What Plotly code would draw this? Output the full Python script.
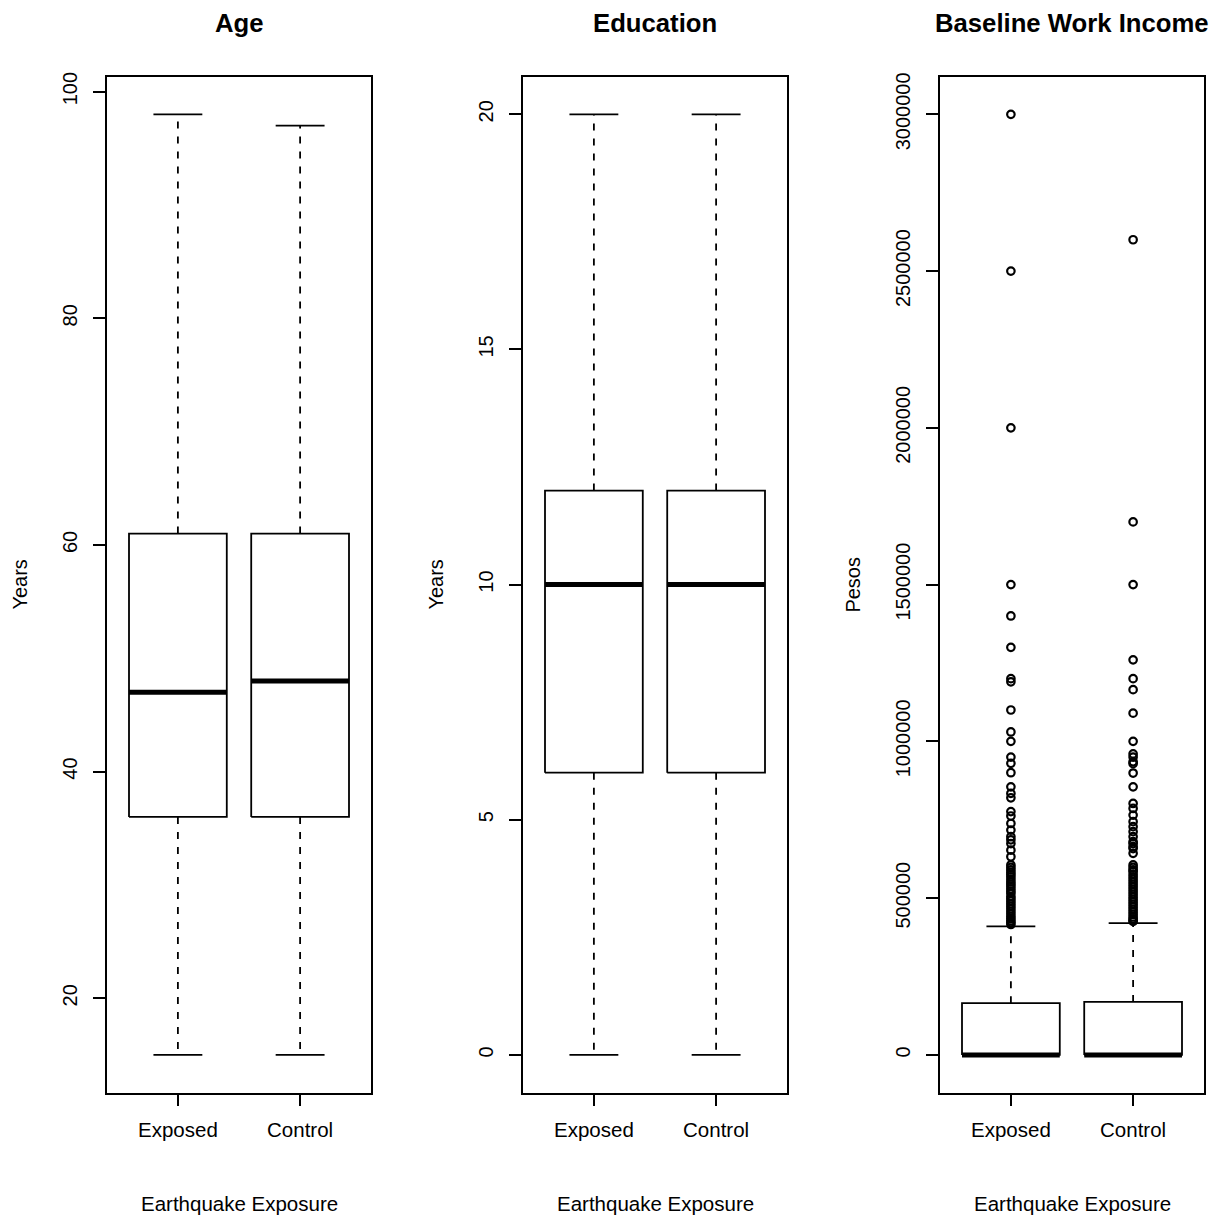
import plotly.graph_objects as go

W, H = 1217, 1220

groups = ["Exposed", "Control"]
group_pos = [1, 2]

# five-number summaries: [lower whisker, q1, median, q3, upper whisker]
age_stats = {"Exposed": [15, 36, 47, 61, 98], "Control": [15, 36, 48, 61, 97]}
edu_stats = {"Exposed": [0, 6, 10, 12, 20], "Control": [0, 6, 10, 12, 20]}
inc_stats = {"Exposed": [0, 0, 0, 165000, 410000], "Control": [0, 0, 0, 169000, 420000]}

age_out = {"Exposed": [], "Control": []}
edu_out = {"Exposed": [], "Control": []}
inc_out = {
    "Exposed": [3000000, 2500000, 2000000, 1500000, 1400000, 1300000, 1200000, 1190000,
                1100000, 1030000, 1000000, 950000, 930000, 900000, 855000, 834000, 820000,
                776000, 762000, 738000, 717000, 696000, 686000, 674000, 653000, 632000,
                606000, 598000, 590000, 582000, 575000, 568000, 560000, 552000, 545000,
                538000, 530000, 522000, 515000, 505000, 498000, 490000, 482000, 474000,
                466000, 458000, 450000, 442000, 435000, 428000, 422000, 416000],
    "Control": [2600000, 1700000, 1500000, 1260000, 1200000, 1165000, 1090000, 1000000,
                960000, 950000, 935000, 929000, 899000, 855000, 802000, 786000, 765000,
                744000, 728000, 712000, 696000, 680000, 664000, 674000, 658000, 643000,
                606000, 598000, 590000, 585000, 576000, 568000, 560000, 552000, 544000,
                536000, 528000, 520000, 512000, 504000, 496000, 488000, 480000, 472000,
                464000, 456000, 448000, 440000, 434000, 428000, 426000],
}

titles = ["Age", "Education", "Baseline Work Income"]
ytitles = ["Years", "Years", "Pesos"]
xtitle = "Earthquake Exposure"
y_ranges = [[11.68, 101.32], [-0.8, 20.8], [-120000, 3120000]]
y_ticks = [[20, 40, 60, 80, 100], [0, 5, 10, 15, 20],
           [0, 500000, 1000000, 1500000, 2000000, 2500000, 3000000]]

panels = [(age_stats, age_out), (edu_stats, edu_out), (inc_stats, inc_out)]

# pixel layout of the three plot regions
px_left = [107, 523, 940]
px_width = 264
px_top, px_bottom = 72, 1092

FONT = "Liberation Sans, Arial, sans-serif"
BOXW = 0.4
CAPW = 0.2
LW = 1.8

fig = go.Figure()
layout = dict(
    width=W, height=H, margin=dict(l=0, r=0, t=0, b=0),
    paper_bgcolor="white", plot_bgcolor="white", showlegend=False,
    font=dict(family=FONT, size=20, color="black"),
)
annotations = []

for k, (stats, outs) in enumerate(panels):
    xa = "x" if k == 0 else f"x{k+1}"
    ya = "y" if k == 0 else f"y{k+1}"
    for g, p in zip(groups, group_pos):
        lo, q1, med, q3, hi = stats[g]
        # whiskers (dashed)
        fig.add_trace(go.Scatter(x=[p, p, None, p, p], y=[q3, hi, None, q1, lo],
                                 mode="lines", line=dict(color="black", width=LW, dash="7px,8px"),
                                 xaxis=xa, yaxis=ya, hoverinfo="skip"))
        # caps
        fig.add_trace(go.Scatter(x=[p - CAPW, p + CAPW, None, p - CAPW, p + CAPW],
                                 y=[hi, hi, None, lo, lo],
                                 mode="lines", line=dict(color="black", width=LW),
                                 xaxis=xa, yaxis=ya, hoverinfo="skip"))
        # box
        fig.add_trace(go.Scatter(x=[p - BOXW, p + BOXW, p + BOXW, p - BOXW, p - BOXW],
                                 y=[q1, q1, q3, q3, q1], mode="lines", fill="toself",
                                 fillcolor="white", line=dict(color="black", width=LW),
                                 xaxis=xa, yaxis=ya, hoverinfo="skip"))
        # median
        fig.add_trace(go.Scatter(x=[p - BOXW, p + BOXW], y=[med, med], mode="lines",
                                 line=dict(color="black", width=5),
                                 xaxis=xa, yaxis=ya, hoverinfo="skip"))
        if outs[g]:
            fig.add_trace(go.Scatter(x=[p] * len(outs[g]), y=outs[g], mode="markers",
                                     marker=dict(symbol="circle-open", size=7.5, color="black",
                                                 line=dict(width=2.2, color="black")),
                                     xaxis=xa, yaxis=ya, hoverinfo="skip"))

    x0 = px_left[k] / W
    x1 = (px_left[k] + px_width) / W
    y0 = 1 - px_bottom / H
    y1 = 1 - px_top / H
    xkey = "xaxis" if k == 0 else f"xaxis{k+1}"
    ykey = "yaxis" if k == 0 else f"yaxis{k+1}"
    layout[xkey] = dict(domain=[x0, x1], range=[0.42, 2.58], anchor=ya,
                        tickvals=group_pos, ticktext=groups, ticks="outside", ticklen=12,
                        tickwidth=LW, tickcolor="black", showline=True, mirror=True,
                        linecolor="black", linewidth=LW, showgrid=False, zeroline=False,
                        tickfont=dict(size=20.5), ticklabelstandoff=6)
    layout[ykey] = dict(domain=[y0, y1], range=y_ranges[k], anchor=xa,
                        tickvals=y_ticks[k], ticktext=[str(v) for v in y_ticks[k]],
                        ticks="outside", ticklen=12, tickwidth=LW, tickcolor="black",
                        showline=True, mirror=True, linecolor="black", linewidth=LW,
                        showgrid=False, zeroline=False, tickangle=-90,
                        tickfont=dict(size=20), ticklabelstandoff=8)
    cx = (px_left[k] + px_width / 2) / W
    annotations.append(dict(text=f"<b>{titles[k]}</b>", x=cx, y=1 - 18 / H, xref="paper",
                            yref="paper", showarrow=False, font=dict(size=25.7),
                            xanchor="center", yanchor="middle"))
    annotations.append(dict(text=xtitle, x=cx, y=1 - 1203 / H, xref="paper", yref="paper",
                            showarrow=False, font=dict(size=20.5), xanchor="center",
                            yanchor="middle"))
    annotations.append(dict(text=ytitles[k], x=(px_left[k] - 87) / W,
                            y=1 - (px_top + px_bottom) / 2 / H, xref="paper", yref="paper",
                            showarrow=False, textangle=-90, font=dict(size=20),
                            xanchor="center", yanchor="middle"))

layout["annotations"] = annotations
fig.update_layout(**layout)
fig.write_html("out.html", config={"displayModeBar": False},
               post_script="document.body.style.margin='0';document.body.style.overflow='hidden';")
